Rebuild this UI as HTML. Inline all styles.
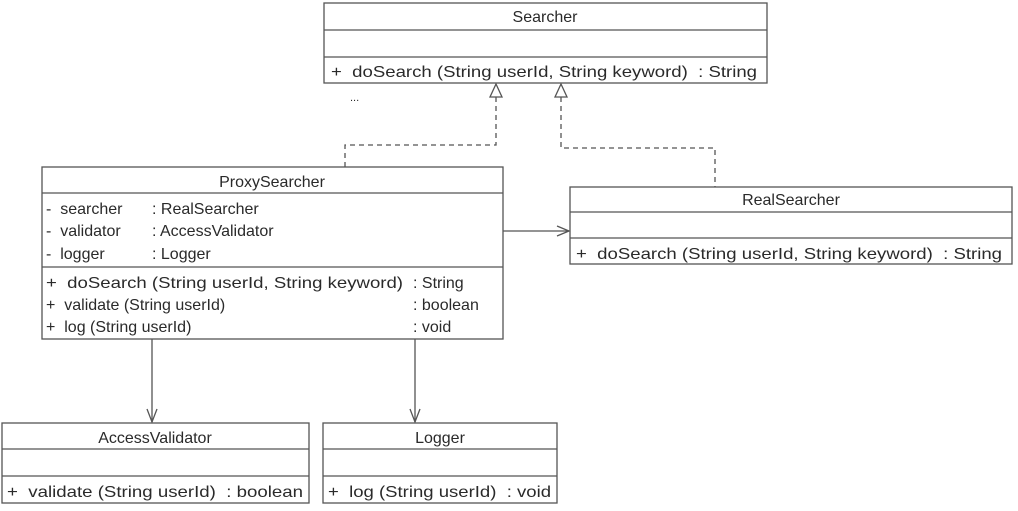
<!DOCTYPE html>
<html><head><meta charset="utf-8"><style>
body{margin:0;background:#fff;}
svg text{font-family:"Liberation Sans",Arial,sans-serif;font-size:16px;fill:#2a2a2a;white-space:pre;}
</style></head><body>
<svg width="1018" height="506" viewBox="0 0 1018 506" xmlns="http://www.w3.org/2000/svg">
<g fill="#fff" stroke="#555" stroke-width="1.3">
<rect x="324" y="3" width="443" height="80"/>
<line x1="324" y1="30" x2="767" y2="30"/><line x1="324" y1="57" x2="767" y2="57"/>
<rect x="42" y="167" width="461" height="172"/>
<line x1="42" y1="193" x2="503" y2="193"/><line x1="42" y1="267" x2="503" y2="267"/>
<rect x="570" y="187" width="442" height="77"/>
<line x1="570" y1="212" x2="1012" y2="212"/><line x1="570" y1="238" x2="1012" y2="238"/>
<rect x="2" y="423" width="307" height="80"/>
<line x1="2" y1="449" x2="309" y2="449"/><line x1="2" y1="476" x2="309" y2="476"/>
<rect x="323" y="423" width="234" height="80"/>
<line x1="323" y1="449" x2="557" y2="449"/><line x1="323" y1="476" x2="557" y2="476"/>
</g>
<g fill="none" stroke="#555" stroke-width="1.3">
<polyline points="345,167 345,145 496,145 496,97" stroke-dasharray="5,4"/>
<polyline points="561,97 561,148 715,148 715,187" stroke-dasharray="5,4"/>
<polygon points="496,84 490,97 502,97" fill="#fff"/>
<polygon points="561,84 555,97 567,97" fill="#fff"/>
<line x1="503" y1="231" x2="569" y2="231"/><polyline points="557,226 569,231 557,236"/>
<line x1="152" y1="339" x2="152" y2="422"/><polyline points="147,409 152,422 157,409"/>
<line x1="415" y1="339" x2="415" y2="422"/><polyline points="410,409 415,422 420,409"/>
</g>
<text x="545" y="22" text-anchor="middle">Searcher</text>
<text x="331" y="77" textLength="426" lengthAdjust="spacingAndGlyphs">+  doSearch (String userId, String keyword)  : String</text>
<text x="350" y="101" style="font-size:11px">...</text>
<text x="272" y="187" text-anchor="middle">ProxySearcher</text>
<text x="46" y="214">-  searcher</text><text x="152" y="214">: RealSearcher</text>
<text x="46" y="236">-  validator</text><text x="152" y="236">: AccessValidator</text>
<text x="46" y="259">-  logger</text><text x="152" y="259">: Logger</text>
<text x="46" y="288" textLength="357" lengthAdjust="spacingAndGlyphs">+  doSearch (String userId, String keyword)</text><text x="413" y="288">: String</text>
<text x="46" y="310">+  validate (String userId)</text><text x="413" y="310">: boolean</text>
<text x="46" y="332">+  log (String userId)</text><text x="413" y="332">: void</text>
<text x="791" y="205" text-anchor="middle">RealSearcher</text>
<text x="576" y="259" textLength="426" lengthAdjust="spacingAndGlyphs">+  doSearch (String userId, String keyword)  : String</text>
<text x="155" y="443" text-anchor="middle">AccessValidator</text>
<text x="7" y="497" textLength="296" lengthAdjust="spacingAndGlyphs">+  validate (String userId)  : boolean</text>
<text x="440" y="443" text-anchor="middle">Logger</text>
<text x="328" y="497" textLength="223" lengthAdjust="spacingAndGlyphs">+  log (String userId)  : void</text>
</svg>
</body></html>
